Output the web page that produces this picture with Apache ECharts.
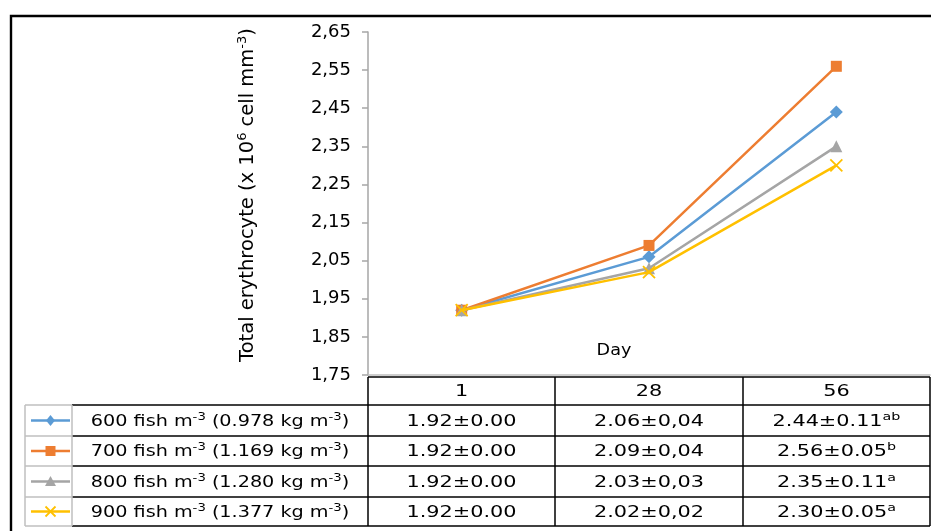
<!DOCTYPE html>
<html>
<head>
<meta charset="utf-8">
<script src="https://cdn.jsdelivr.net/npm/echarts@6/dist/echarts.min.js"></script>
<style>
html,body{margin:0;padding:0;background:#fff;}
#chart{width:931px;height:531px;}
</style>
</head>
<body>
<div id="chart"></div>
<script>
// ---- data ----
const categories = ['1', '28', '56'];
const densities = ['600', '700', '800', '900'];
const biomass = ['0.978', '1.169', '1.280', '1.377'];
const values600 = [1.92, 2.06, 2.44];
const values700 = [1.92, 2.09, 2.56];
const values800 = [1.92, 2.03, 2.35];
const values900 = [1.92, 2.02, 2.30];
const sd600 = ['0.00', '0,04', '0.11'];
const sd700 = ['0.00', '0,04', '0.05'];
const sd800 = ['0.00', '0,03', '0.11'];
const sd900 = ['0.00', '0,02', '0.05'];
const letters600 = ['', '', 'ab'];
const letters700 = ['', '', 'b'];
const letters800 = ['', '', 'a'];
const letters900 = ['', '', 'a'];
const yTicks = [1.75, 1.85, 1.95, 2.05, 2.15, 2.25, 2.35, 2.45, 2.55, 2.65];

const allValues = [values600, values700, values800, values900];
const allSd = [sd600, sd700, sd800, sd900];
const allLetters = [letters600, letters700, letters800, letters900];
const colors = ['#5B9BD5', '#ED7D31', '#A5A5A5', '#FFC000'];
const symbols = ['diamond', 'rect', 'triangle', 'path://M0,0L10,10M10,0L0,10'];
const symbolSizes = [13, 11, 12, 12];
const names = densities.map((d, i) => d + ' fish m-3 (' + biomass[i] + ' kg m-3)');

// ---- layout ----
const G = {left: 368, right: 930, top: 32, bottom: 375};
const colEdges = [368, 555, 743, 930];
const rowEdges = [405, 436, 466, 497, 526];
const headTop = 377;
const keyLeft = 25, keyRight = 72;
const SX = 1.3;
const SXL = 1.2;
const FONT = '"DejaVu Sans", Verdana, sans-serif';

const chart = echarts.init(document.getElementById('chart'));

const series = allValues.map((vals, i) => ({
  name: names[i],
  type: 'line',
  data: vals,
  symbol: symbols[i],
  symbolSize: symbolSizes[i],
  lineStyle: {color: colors[i], width: 2.5},
  itemStyle: i === 3 ? {color: 'rgba(0,0,0,0)', borderColor: colors[i], borderWidth: 1.8} : {color: colors[i], borderWidth: 0},
  emphasis: {disabled: true},
  animation: false,
  z: 2 + i
}));

const graphics = [];
// outer frame
graphics.push({type: 'rect', shape: {x: 11, y: 16, width: 960, height: 560}, style: {fill: null, stroke: '#000', lineWidth: 2.4}, silent: true});
// header row
graphics.push({type: 'line', shape: {x1: G.left, y1: headTop, x2: G.right, y2: headTop}, style: {stroke: '#000', lineWidth: 1.5}});
// horizontal table lines
rowEdges.forEach(y => {
  graphics.push({type: 'line', shape: {x1: keyLeft, y1: y, x2: keyRight, y2: y}, style: {stroke: '#bfbfbf', lineWidth: 1.5}});
  graphics.push({type: 'line', shape: {x1: keyRight, y1: y, x2: G.right, y2: y}, style: {stroke: '#000', lineWidth: 1.5}});
});
// vertical lines
colEdges.forEach(x => {
  graphics.push({type: 'line', shape: {x1: x, y1: headTop, x2: x, y2: rowEdges[4]}, style: {stroke: '#000', lineWidth: 1.5}});
});
[keyLeft, keyRight].forEach(x => {
  graphics.push({type: 'line', shape: {x1: x, y1: rowEdges[0], x2: x, y2: rowEdges[4]}, style: {stroke: '#bfbfbf', lineWidth: 1.5}});
});
// legend keys (line + marker) in the key column
const keyX1 = 31, keyX2 = 70, keyCx = 50.5;
colors.forEach((c, i) => {
  const cy = (rowEdges[i] + rowEdges[i + 1]) / 2;
  graphics.push({type: 'line', shape: {x1: keyX1, y1: cy, x2: keyX2, y2: cy}, style: {stroke: c, lineWidth: 2.5}});
  const r = 5;
  if (i === 0) {
    graphics.push({type: 'polygon', shape: {points: [[keyCx, cy - 5.5], [keyCx + 4.5, cy], [keyCx, cy + 5.5], [keyCx - 4.5, cy]]}, style: {fill: c}});
  } else if (i === 1) {
    graphics.push({type: 'rect', shape: {x: keyCx - r, y: cy - r, width: 2 * r, height: 2 * r}, style: {fill: c}});
  } else if (i === 2) {
    graphics.push({type: 'polygon', shape: {points: [[keyCx, cy - 5.5], [keyCx + 5.5, cy + 4.5], [keyCx - 5.5, cy + 4.5]]}, style: {fill: c}});
  } else {
    graphics.push({type: 'line', shape: {x1: keyCx - r, y1: cy - r, x2: keyCx + r, y2: cy + r}, style: {stroke: c, lineWidth: 1.8}});
    graphics.push({type: 'line', shape: {x1: keyCx - r, y1: cy + r, x2: keyCx + r, y2: cy - r}, style: {stroke: c, lineWidth: 1.8}});
  }
});
const rich = {
  n: {fontSize: 16, fontFamily: FONT, color: '#000', lineHeight: 20},
  s: {fontSize: 11, fontFamily: FONT, color: '#000', verticalAlign: 'top', lineHeight: 20, padding: [0, 0, 8, 0]}
};
// header labels
categories.forEach((c, j) => {
  graphics.push({type: 'text', x: (colEdges[j] + colEdges[j + 1]) / 2, y: (headTop + rowEdges[0]) / 2 + 1, scaleX: SX,
    style: {text: c, x: 0, y: 0, align: 'center', verticalAlign: 'middle', font: '16px ' + FONT, fill: '#000'}});
});
// rows
allValues.forEach((vals, i) => {
  const cy = (rowEdges[i] + rowEdges[i + 1]) / 2 + 1;
  graphics.push({type: 'text', x: (keyRight + G.left) / 2, y: cy, scaleX: SXL,
    style: {text: '{n|' + densities[i] + ' fish m}{s|-3}{n| (' + biomass[i] + ' kg m}{s|-3}{n|)}', rich: rich, x: 0, y: 0, align: 'center', verticalAlign: 'middle'}});
  vals.forEach((v, j) => {
    const sup = allLetters[i][j];
    const txt = '{n|' + v.toFixed(2) + '±' + allSd[i][j] + '}' + (sup ? '{s|' + sup + '}' : '');
    graphics.push({type: 'text', x: (colEdges[j] + colEdges[j + 1]) / 2, y: cy, scaleX: SX,
      style: {text: txt, rich: rich, x: 0, y: 0, align: 'center', verticalAlign: 'middle'}});
  });
});
// Day label
graphics.push({type: 'text', x: 614, y: 351, scaleX: 1.1,
  style: {text: 'Day', x: 0, y: 0, align: 'center', verticalAlign: 'middle', font: '16px ' + FONT, fill: '#000'}});

const fmt = v => v.toFixed(2).replace('.', ',');

chart.setOption({
  animation: false,
  backgroundColor: '#fff',
  textStyle: {fontFamily: FONT},
  grid: {left: G.left, right: 931 - G.right, top: G.top, bottom: 531 - G.bottom, containLabel: false},
  xAxis: {
    type: 'category', data: categories, boundaryGap: true,
    axisLine: {show: true, lineStyle: {color: '#bfbfbf', width: 1.5}},
    axisTick: {show: false}, axisLabel: {show: false}, splitLine: {show: false}
  },
  yAxis: {
    type: 'value', min: yTicks[0], max: yTicks[yTicks.length - 1],
    name: '{n|Total erythrocyte (x 10}{s|6}{n| cell mm}{s|-3}{n|)}',
    nameLocation: 'middle', nameRotate: 90, nameGap: 108,
    nameTextStyle: {
      padding: [0, 0, 0, 17],
      rich: {
        n: {fontSize: 19.5, fontFamily: FONT, color: '#000', lineHeight: 24},
        s: {fontSize: 13, fontFamily: FONT, color: '#000', verticalAlign: 'top', lineHeight: 24, padding: [0, 0, 10, 0]}
      }
    },
    axisLine: {show: true, lineStyle: {color: '#a6a6a6', width: 1.5}},
    axisTick: {show: true, length: 6, customValues: yTicks, lineStyle: {color: '#a6a6a6', width: 1.5}},
    axisLabel: {customValues: yTicks, formatter: fmt, fontSize: 18, color: '#000', margin: 17, fontFamily: FONT},
    splitLine: {show: false}
  },
  series: series,
  graphic: graphics
});
</script>
</body>
</html>
